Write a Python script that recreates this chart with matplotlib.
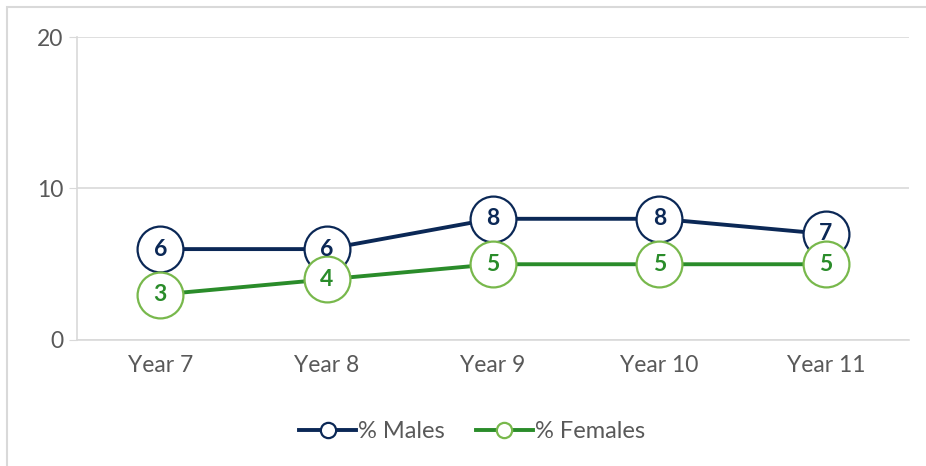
import matplotlib.pyplot as plt
from matplotlib.patches import Rectangle
from matplotlib.lines import Line2D

years = ["Year 7", "Year 8", "Year 9", "Year 10", "Year 11"]
males = [6, 6, 8, 8, 7]
females = [3, 4, 5, 5, 5]

navy = "#0b2856"
green = "#2a8c2a"
green_edge = "#78b84c"
grey_txt = "#595959"
grid_c = "#d9d9d9"

plt.rcParams["font.family"] = ["Lato", "DejaVu Sans"]

fig = plt.figure(figsize=(9.26, 4.66), dpi=100)
ax = fig.add_axes([0.0832, 0.2704, 0.8984, 0.6502])

# outer chart frame (only top/left visible)
fig.patches.append(Rectangle((0.008, -0.05), 1.1, 1.034, transform=fig.transFigure,
                             fill=False, edgecolor=grid_c, linewidth=1.5))

x = list(range(len(years)))
ax.plot(x, males, color=navy, lw=2.8, marker="o", ms=33, mfc="white",
        mec=navy, mew=1.6, zorder=3)
ax.plot(x, females, color=green, lw=2.8, marker="o", ms=33, mfc="white",
        mec=green_edge, mew=1.6, zorder=4)

for i, v in enumerate(males):
    ax.text(i, v, str(v), ha="center", va="center", color=navy,
            fontsize=16.5, fontweight="bold", zorder=5)
for i, v in enumerate(females):
    ax.text(i, v, str(v), ha="center", va="center", color=green,
            fontsize=16.5, fontweight="bold", zorder=6)

ax.set_xlim(-0.5, 4.5)
ax.set_ylim(0, 20)
ax.set_yticks([0, 10, 20])
ax.set_xticks(x)
ax.set_xticklabels(years)
ax.grid(axis="y", color=grid_c, lw=1.2, zorder=0)
ax.set_axisbelow(True)
for s in ["top", "right"]:
    ax.spines[s].set_visible(False)
ax.spines["left"].set_color(grid_c)
ax.spines["bottom"].set_color(grid_c)
ax.spines["left"].set_linewidth(1.2)
ax.spines["bottom"].set_linewidth(1.2)
ax.tick_params(axis="y", length=6, color=grid_c, labelsize=16.5,
               labelcolor=grey_txt, pad=4)
ax.tick_params(axis="x", length=0, labelsize=16.5, labelcolor=grey_txt, pad=11)

handles = [
    Line2D([], [], color=navy, lw=2.8, marker="o", ms=11, mfc="white",
           mec=navy, mew=1.6, label="% Males"),
    Line2D([], [], color=green, lw=2.8, marker="o", ms=11, mfc="white",
           mec=green_edge, mew=1.6, label="% Females"),
]
leg = fig.legend(handles=handles, loc="center", bbox_to_anchor=(0.51, 0.073),
                 ncol=2, frameon=False, fontsize=17, handlelength=2.4,
                 handletextpad=0.1, columnspacing=1.3)
for t in leg.get_texts():
    t.set_color(grey_txt)

fig.savefig("out.png", dpi=100)
